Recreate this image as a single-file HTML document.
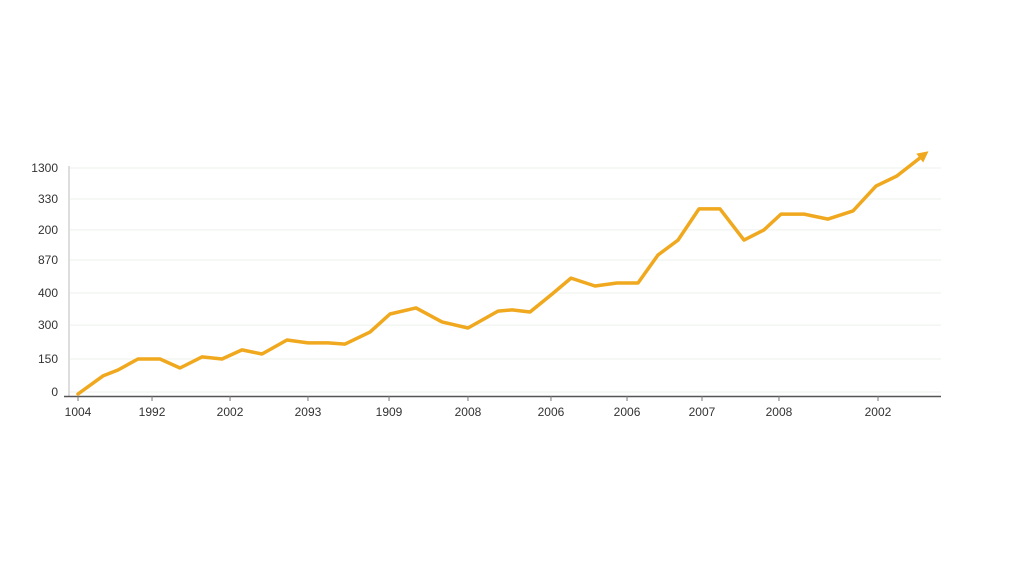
<!DOCTYPE html>
<html><head><meta charset="utf-8"><style>
html,body{margin:0;padding:0;background:#fff;}
svg{display:block;font-family:"Liberation Sans",sans-serif;}
</style></head><body>
<svg id="chart" width="1024" height="585" viewBox="0 0 1024 585" xmlns="http://www.w3.org/2000/svg">
<defs><marker id="arrow" viewBox="0 0 10 10" refX="6" refY="5" markerWidth="3.2" markerHeight="3.2" orient="auto"><path d="M0,0 L10,5 L0,10 z" fill="#f0a81e"/></marker></defs>
<g id="grid"></g>
<g id="yaxis"></g>
<g id="xaxis"></g>
<g id="series"></g>
</svg>
<script>
const xPositions = [0,2.95,4.72,7.08,9.68,12.04,14.64,17.0,19.36,21.72,24.68,27.15,29.52,31.52,34.47,36.84,39.9,42.97,46.04,49.59,51.24,53.36,55.96,58.2,61.04,63.64,66.12,68.48,70.84,73.32,75.8,78.63,80.99,83.0,85.71,88.55,91.5,94.21,96.69,100];
const seriesValues = [0,8.0,10.6,15.5,15.5,11.5,16.4,15.5,19.5,17.7,23.9,22.6,22.6,22.1,27.4,35.4,38.1,31.9,29.2,36.7,37.2,36.3,44.2,51.3,47.8,49.1,49.1,61.5,68.1,81.9,81.9,68.1,72.6,79.6,79.6,77.4,81.0,92.0,96.5,106.2];
const yTickLabels = ["1300","330","200","870","400","300","150","0"];
const yTickValues = [100,86.3,72.6,59.3,44.7,30.5,15.5,0.9];
const xTickLabels = ["1004","1992","2002","2093","1909","2008","2006","2006","2007","2008","2002"];
const xTickValues = [0,8.74,17.95,27.15,36.72,46.04,55.84,64.82,73.67,82.76,94.45];

const NS="http://www.w3.org/2000/svg";
function xs(t){return 78+t*8.47;}
function ys(v){return 394-v*2.26;}
function mk(tag,attrs,parent){const e=document.createElementNS(NS,tag);for(const k in attrs)e.setAttribute(k,attrs[k]);parent.appendChild(e);return e;}
const grid=document.getElementById('grid'),ya=document.getElementById('yaxis'),xa=document.getElementById('xaxis'),se=document.getElementById('series');
yTickValues.forEach((v,i)=>{
  const g=mk('line',{x1:70,x2:941,y1:ys(v),y2:ys(v),stroke:'#eef0ee','stroke-width':1},grid);
  
  
  const t=mk('text',{x:58,y:ys(v)+4,'text-anchor':'end','font-size':12,fill:'#333'},ya);
  t.textContent=yTickLabels[i];
  
  
});
const yl=mk('line',{x1:69,x2:69,y1:166,y2:397,stroke:'#bbb','stroke-width':1},ya);


const xl=mk('line',{x1:64,x2:941,y1:396.5,y2:396.5,stroke:'#555','stroke-width':1.5},xa);


xTickValues.forEach((v,i)=>{
  const tk=mk('line',{x1:xs(v),x2:xs(v),y1:396,y2:401,stroke:'#777','stroke-width':1},xa);
  
  
  const t=mk('text',{x:xs(v),y:416,'text-anchor':'middle','font-size':12,fill:'#333'},xa);
  t.textContent=xTickLabels[i];
  
  
});
const d=seriesValues.map((v,i)=>(i?'L':'M')+xs(xPositions[i]).toFixed(1)+','+ys(v).toFixed(1)).join(' ');
const p=mk('path',{d:d,fill:'none',stroke:'#f0a81e','stroke-width':3.5,'stroke-linejoin':'round','stroke-linecap':'round','marker-end':'url(#arrow)'},se);


</script>
</body></html>
